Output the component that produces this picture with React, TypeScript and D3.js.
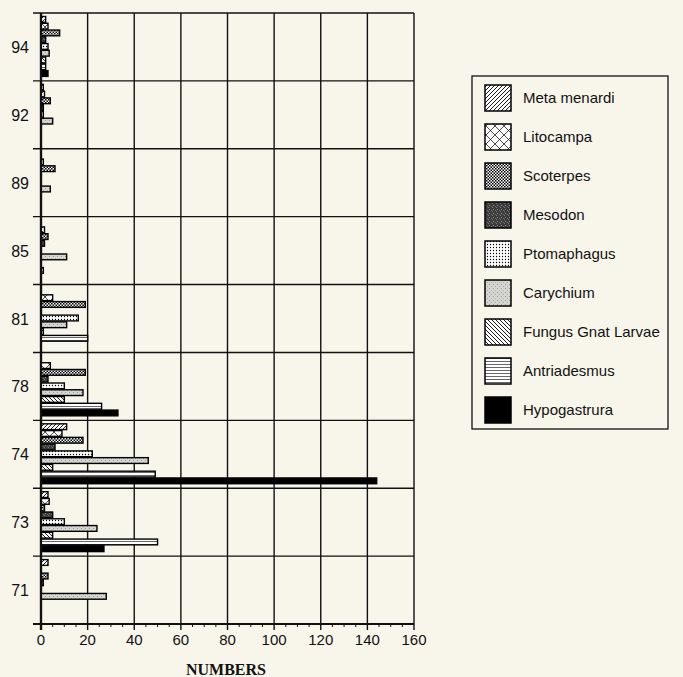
import React from "react";
import * as d3 from "d3";

const years = ["94", "92", "89", "85", "81", "78", "74", "73", "71"];
const series = [
  "Meta menardi",
  "Litocampa",
  "Scoterpes",
  "Mesodon",
  "Ptomaphagus",
  "Carychium",
  "Fungus Gnat Larvae",
  "Antriadesmus",
  "Hypogastrura",
];
// values per year, in series order
const v94 = [2, 3, 8, 2, 3, 3.5, 2, 2, 3];
const v92 = [1, 1.5, 4, 1, 1, 5, 0, 0, 0];
const v89 = [0, 1, 6, 0, 0, 4, 0, 0, 0];
const v85 = [0, 1.5, 3, 1.5, 0, 11, 0, 1, 0];
const v81 = [0, 5, 19, 0, 16, 11, 1, 20, 0];
const v78 = [0, 4, 19, 3, 10, 18, 10, 26, 33];
const v74 = [11, 9, 18, 6, 22, 46, 5, 49, 144];
const v73 = [3, 3.5, 1.5, 5, 10, 24, 5, 50, 27];
const v71 = [3, 0, 3, 1, 0, 28, 0, 0, 0];
const valuesByYear = [v94, v92, v89, v85, v81, v78, v74, v73, v71];
const xTicks = [0, 20, 40, 60, 80, 100, 120, 140, 160];
const patternIds = ["meta", "lito", "scot", "meso", "ptom", "cary", "fung", "antri", "hypo"];

const W = 683;
const H = 677;
const left = 41;
const right = 414;
const top = 13;
const bottom = 624;
const BG = "#f8f6eb";

export default function App() {
  const x = d3.scaleLinear().domain([0, 160]).range([left, right]);
  const y = d3.scaleBand().domain(years).range([top, bottom]).padding(0);
  const bw = y.bandwidth();
  const inner = d3.scaleBand().domain(series).range([3, bw - 4]).padding(0);
  const minor = d3.range(0, 161, 5).filter((d) => d % 20 !== 0);
  const font = "Arial, 'Liberation Sans', Helvetica, sans-serif";

  const legendX = 472;
  const legendY = 76;
  const legendStep = 39;

  return (
    <svg width={W} height={H} style={{ position: "absolute", left: 0, top: 0 }}>
      <defs>
        <pattern id="meta" patternUnits="userSpaceOnUse" width="4" height="4">
          <rect width="4" height="4" fill="#fff" />
          <path d="M-1,1 l2,-2 M0,4 l4,-4 M3,5 l2,-2" stroke="#000" strokeWidth="0.9" />
        </pattern>
        <pattern id="lito" patternUnits="userSpaceOnUse" width="9" height="9">
          <rect width="9" height="9" fill="#fff" />
          <path d="M0,0 L9,9 M9,0 L0,9" stroke="#000" strokeWidth="0.7" />
        </pattern>
        <pattern id="scot" patternUnits="userSpaceOnUse" width="3" height="3">
          <rect width="3" height="3" fill="#fff" />
          <rect x="0" y="0" width="1.5" height="1.5" fill="#000" />
          <rect x="1.5" y="1.5" width="1.5" height="1.5" fill="#000" />
        </pattern>
        <pattern id="meso" patternUnits="userSpaceOnUse" width="4" height="4">
          <rect width="4" height="4" fill="#3c3c3c" />
          <rect x="1" y="1" width="1" height="1" fill="#8a8a8a" />
          <rect x="3" y="2" width="1" height="1" fill="#6a6a6a" />
          <rect x="0" y="3" width="1" height="1" fill="#777" />
        </pattern>
        <pattern id="ptom" patternUnits="userSpaceOnUse" width="3" height="3">
          <rect width="3" height="3" fill="#fff" />
          <circle cx="1.5" cy="1.5" r="0.65" fill="#000" />
        </pattern>
        <pattern id="cary" patternUnits="userSpaceOnUse" width="4" height="4">
          <rect width="4" height="4" fill="#d4d4d0" />
          <rect x="1" y="0" width="1" height="1" fill="#999" />
          <rect x="3" y="2" width="1" height="1" fill="#aaa" />
        </pattern>
        <pattern id="fung" patternUnits="userSpaceOnUse" width="4" height="4">
          <rect width="4" height="4" fill="#fff" />
          <path d="M-1,3 l2,2 M0,0 l4,4 M3,-1 l2,2" stroke="#000" strokeWidth="0.9" />
        </pattern>
        <pattern id="antri" patternUnits="userSpaceOnUse" width="4" height="3">
          <rect width="4" height="3" fill="#fff" />
          <line x1="0" y1="1.5" x2="4" y2="1.5" stroke="#000" strokeWidth="0.6" />
        </pattern>
        <pattern id="hypo" patternUnits="userSpaceOnUse" width="4" height="4">
          <rect width="4" height="4" fill="#000" />
        </pattern>
      </defs>
      <rect width={W} height={H} fill={BG} />

      {/* vertical grid lines */}
      {xTicks.map((t) => (
        <line key={"vg" + t} x1={x(t)} x2={x(t)} y1={top} y2={bottom + 6} stroke="#111" strokeWidth={t === 0 ? 2.2 : 1.4} />
      ))}
      {/* horizontal grid lines */}
      {years.map((yr) => (
        <line key={"hg" + yr} x1={33} x2={right} y1={y(yr)} y2={y(yr)} stroke="#111" strokeWidth={1.4} />
      ))}
      <line x1={33} x2={right} y1={bottom} y2={bottom} stroke="#111" strokeWidth={1.8} />
      {minor.map((t) => (
        <line key={"mt" + t} x1={x(t)} x2={x(t)} y1={bottom} y2={bottom + 3} stroke="#111" strokeWidth={1} />
      ))}

      {/* bars */}
      {years.map((yr, i) =>
        series.map((s, j) => {
          const val = valuesByYear[i][j];
          if (!val) return null;
          const y0 = (y(yr) as number) + (inner(s) as number);
          return (
            <rect
              key={yr + s}
              x={x(0)}
              y={y0 + 0.5}
              width={x(val) - x(0)}
              height={inner.bandwidth() - 1}
              fill={`url(#${patternIds[j]})`}
              stroke="#000"
              strokeWidth={1.4}
            />
          );
        })
      )}
      <line x1={x(0)} x2={x(0)} y1={top} y2={bottom + 6} stroke="#111" strokeWidth={2.2} />

      {/* y labels */}
      {years.map((yr) => (
        <text key={"yl" + yr} x={29} y={(y(yr) as number) + bw / 2 + 6} textAnchor="end" fontFamily={font} fontSize={16} fill="#111">
          {yr}
        </text>
      ))}
      {/* x labels */}
      {xTicks.map((t) => (
        <text key={"xl" + t} x={x(t)} y={645} textAnchor="middle" fontFamily={font} fontSize={15} fill="#111">
          {t}
        </text>
      ))}
      <text x={226} y={675} textAnchor="middle" fontFamily="'Liberation Serif', 'Times New Roman', serif" fontWeight="bold" fontSize={16} fill="#111">
        NUMBERS
      </text>

      {/* legend */}
      <rect x={legendX} y={legendY} width={196} height={353} fill="none" stroke="#111" strokeWidth={1.3} />
      {series.map((s, j) => {
        const cy = legendY + 22 + j * legendStep;
        return (
          <g key={"lg" + s}>
            <rect x={485} y={cy - 13} width={26} height={26} fill={`url(#${patternIds[j]})`} stroke="#000" strokeWidth={1.5} />
            <text x={523} y={cy + 5} fontFamily={font} fontSize={15} fill="#111">
              {s}
            </text>
          </g>
        );
      })}
    </svg>
  );
}
